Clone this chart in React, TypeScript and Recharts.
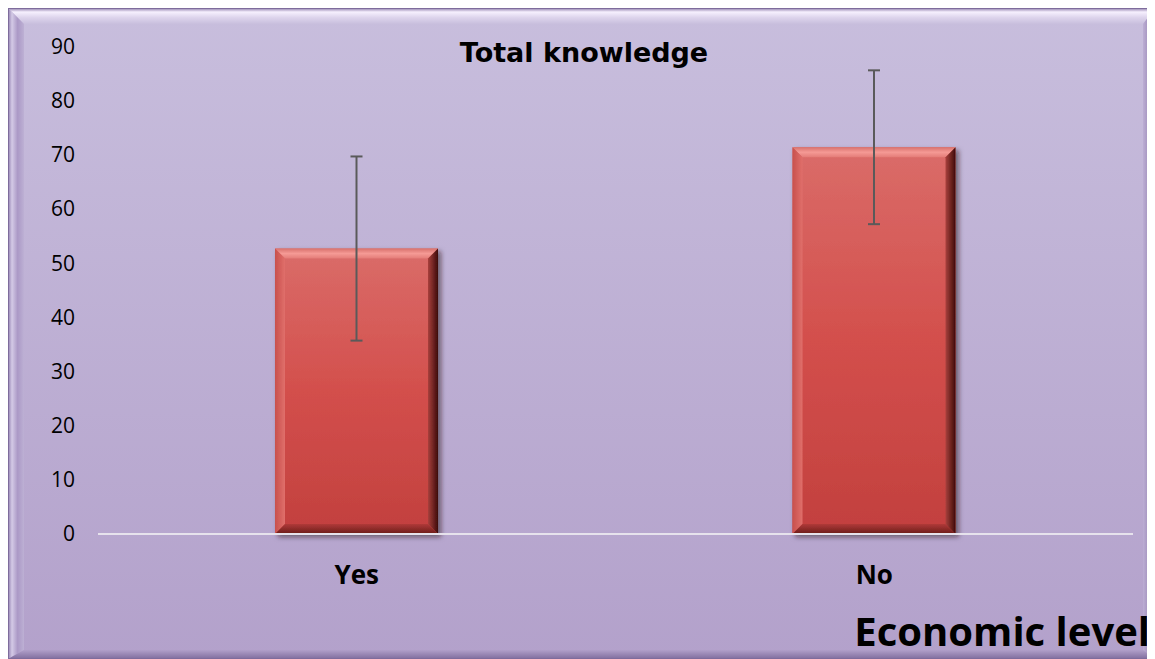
import React from "react";
import {Bar, BarChart, ErrorBar, XAxis, YAxis} from "recharts";

// economic level groups
const categories = ["Yes", "No"];
const meanKnowledge = [52.7, 71.4];
const sdKnowledge = [17, 14.2];
const yTicks = [0, 10, 20, 30, 40, 50, 60, 70, 80, 90];

const data = categories.map((c, i) => ({name: c, value: meanKnowledge[i], err: sdKnowledge[i]}));

const W = 1147;
const H = 651;

function BevelBar(props: any) {
    const {x, y, width, height} = props;
    if (!height || height <= 0) return null;
    const b = 10;
    const x2 = x + width;
    const y2 = y + height;
    return (
        <g filter="url(#barShadow)">
            <rect x={x} y={y} width={width} height={height} fill="url(#barBody)"/>
            <polygon points={`${x},${y} ${x2},${y} ${x2 - b},${y + b} ${x + b},${y + b}`} fill="url(#bevelTop)"/>
            <polygon points={`${x},${y} ${x + b},${y + b} ${x + b},${y2 - b} ${x},${y2}`} fill="url(#bevelLeft)"/>
            <polygon points={`${x2},${y} ${x2},${y2} ${x2 - b},${y2 - b} ${x2 - b},${y + b}`} fill="url(#bevelRight)"/>
            <polygon points={`${x},${y2} ${x2},${y2} ${x2 - b},${y2 - b} ${x + b},${y2 - b}`} fill="url(#bevelBottom)"/>
        </g>
    );
}

function XTick(props: any) {
    const {x, y, payload} = props;
    return (
        <text x={x} y={y + 50} textAnchor="middle" fontFamily="Open Sans" fontWeight="bold" fontSize={26} fill="#000">
            {payload.value}
        </text>
    );
}

function Frame() {
    return (
        <svg width={W} height={H} style={{position: "absolute", left: 0, top: 0}}>
            <defs>
                <linearGradient id="bg" x1="0" y1="0" x2="0" y2="1">
                    <stop offset="0" stopColor="#c8bedd"/>
                    <stop offset="1" stopColor="#b3a1cb"/>
                </linearGradient>
                <linearGradient id="frTop" x1="0" y1="0" x2="0" y2="1">
                    <stop offset="0" stopColor="#8a78a8"/>
                    <stop offset="0.25" stopColor="#f6f0fe"/>
                    <stop offset="0.6" stopColor="#ddd4ec"/>
                    <stop offset="1" stopColor="#c8bedd"/>
                </linearGradient>
                <linearGradient id="frLeft" x1="0" y1="0" x2="1" y2="0">
                    <stop offset="0" stopColor="#8f7dae"/>
                    <stop offset="0.25" stopColor="#d4cae6"/>
                    <stop offset="0.6" stopColor="#ab99c6"/>
                    <stop offset="1" stopColor="#bdb0d4"/>
                </linearGradient>
                <linearGradient id="frRight" x1="0" y1="0" x2="1" y2="0">
                    <stop offset="0" stopColor="#bcaed4"/>
                    <stop offset="0.6" stopColor="#9a88b6"/>
                    <stop offset="1" stopColor="#7e6c9c"/>
                </linearGradient>
                <linearGradient id="frBottom" x1="0" y1="0" x2="0" y2="1">
                    <stop offset="0" stopColor="#b09fc9"/>
                    <stop offset="1" stopColor="#7f6d9d"/>
                </linearGradient>
            </defs>
            <rect x={0} y={0} width={W} height={H} fill="url(#bg)"/>
            <polygon points={`0,0 ${W},0 ${W - 12},16 16,16`} fill="url(#frTop)"/>
            <polygon points={`0,0 16,16 16,${H - 9} 0,${H}`} fill="url(#frLeft)"/>
            <polygon points={`${W},0 ${W},${H} ${W - 12},${H - 9} ${W - 12},16`} fill="url(#frRight)"/>
            <polygon points={`0,${H} ${W},${H} ${W - 12},${H - 9} 16,${H - 9}`} fill="url(#frBottom)"/>
            <rect x={0.5} y={0.5} width={W - 1} height={H - 1} fill="none" stroke="#7e6c9c"/>
            <text x={576} y={54} textAnchor="middle" fontFamily="DejaVu Sans" fontWeight="bold" fontSize={27} fill="#000">
                Total knowledge
            </text>
            <text x={1142} y={638} textAnchor="end" fontFamily="Open Sans" fontWeight="bold" fontSize={40} fill="#000">
                Economic level
            </text>
        </svg>
    );
}

export default function App() {
    return (
        <div style={{position: "relative", width: W, height: H}}>
            <Frame/>
            <div style={{position: "absolute", left: 0, top: 0}}>
                <BarChart width={W} height={H} data={data}
                          margin={{top: 38.5, right: 22, bottom: 95, left: 0}}>
                    <defs>
                        <linearGradient id="barBody" x1="0" y1="0" x2="0" y2="1">
                            <stop offset="0" stopColor="#da6c69"/>
                            <stop offset="0.5" stopColor="#d34f4c"/>
                            <stop offset="1" stopColor="#c2403e"/>
                        </linearGradient>
                        <linearGradient id="bevelTop" x1="0" y1="0" x2="0" y2="1">
                            <stop offset="0" stopColor="#d8716d"/>
                            <stop offset="0.5" stopColor="#f59a95"/>
                            <stop offset="1" stopColor="#e47c78"/>
                        </linearGradient>
                        <linearGradient id="bevelLeft" x1="0" y1="0" x2="1" y2="0">
                            <stop offset="0" stopColor="#c8504c"/>
                            <stop offset="1" stopColor="#e06f6b"/>
                        </linearGradient>
                        <linearGradient id="bevelRight" x1="0" y1="0" x2="1" y2="0">
                            <stop offset="0" stopColor="#a8403c"/>
                            <stop offset="1" stopColor="#3e0c0a"/>
                        </linearGradient>
                        <linearGradient id="bevelBottom" x1="0" y1="0" x2="0" y2="1">
                            <stop offset="0" stopColor="#b03a38"/>
                            <stop offset="1" stopColor="#6a1c1a"/>
                        </linearGradient>
                        <filter id="barShadow" x="-10%" y="-10%" width="125%" height="125%">
                            <feDropShadow dx={3} dy={3} stdDeviation={2.5} floodColor="#2a0a10" floodOpacity={0.55}/>
                        </filter>
                    </defs>
                    <XAxis dataKey="name" axisLine={{stroke: "#e6e2ec", strokeWidth: 2}} tickLine={false}
                           tickSize={0} tickMargin={0} height={30} tick={<XTick/>}/>
                    <YAxis domain={[0, 90]} ticks={yTicks} width={90} axisLine={false} tickLine={false}
                           tickSize={0} tickMargin={23}
                           tick={{fontFamily: "Open Sans", fontSize: 21, fill: "#000"}}/>
                    <Bar dataKey="value" barSize={163} shape={<BevelBar/>} isAnimationActive={false}>
                        <ErrorBar dataKey="err" width={6} stroke="#5a5a5a" strokeWidth={2}/>
                    </Bar>
                </BarChart>
            </div>
        </div>
    );
}
